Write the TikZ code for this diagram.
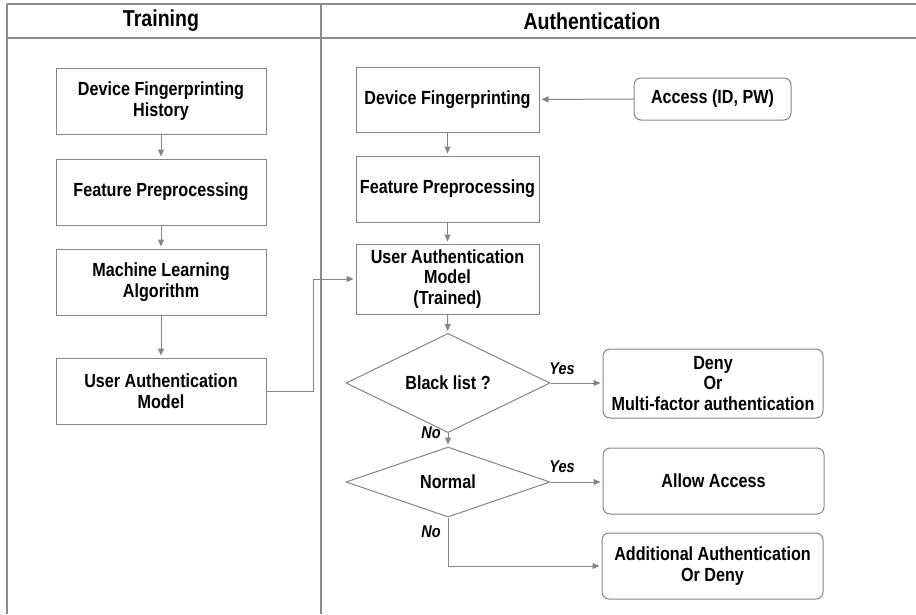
\documentclass[tikz,border=0pt]{standalone}
\usepackage{fontspec}
\setmainfont{Liberation Sans}[FakeStretch=0.85]
\usetikzlibrary{shapes.geometric,arrows.meta}
\definecolor{lc}{HTML}{858585}
\definecolor{fc}{HTML}{8C8C8C}
\tikzset{
  box/.style={draw=lc, line width=1pt, align=center, inner sep=0pt, font=\bfseries\fontsize{19}{20.5}\selectfont},
  rbox/.style={box, rounded corners=7pt},
  dia/.style={diamond, draw=lc, line width=1pt, inner sep=0pt, minimum width=204pt, minimum height=70pt, font=\bfseries\fontsize{19}{20.5}\selectfont},
  conn/.style={draw=lc, line width=1pt, -{Triangle[length=7pt,width=6pt]}, shorten >=2pt},
  lbl/.style={font=\bfseries\itshape\fontsize{17}{17}\selectfont},
  hdr/.style={font=\bfseries\fontsize{23}{23}\selectfont},
  frame/.style={draw=fc, line width=1.3pt}
}
\begin{document}
\begin{tikzpicture}[x=1pt,y=-1pt]
\useasboundingbox (0,0) rectangle (916,614);
% frame
\draw[frame] (7,4) -- (916,4);
\draw[frame] (7,38) -- (916,38);
\draw[frame] (7,4) -- (7,614);
\draw[frame] (321,4) -- (321,614);
\node[hdr] (th) at (161,21) {Training};
\node[hdr] (ah) at (592,21) {Authentication};
% training column
\node[box, minimum width=210pt, minimum height=66pt] (t1) at (161,101) {Device Fingerprinting\\History};
\node[box, minimum width=210pt, minimum height=66pt] (t2) at (161,192) {Feature Preprocessing};
\node[box, minimum width=210pt, minimum height=66pt] (t3) at (161,282) {Machine Learning\\Algorithm};
\node[box, minimum width=210pt, minimum height=66pt] (t4) at (161,391) {User Authentication\\Model};
% authentication column
\node[box, minimum width=183pt, minimum height=65pt] (a1) at (447.5,99.5) {Device Fingerprinting};
\node[rbox, minimum width=157pt, minimum height=42pt] (acc) at (712.5,99) {Access (ID, PW)};
\node[box, minimum width=183pt, minimum height=66pt] (a2) at (447.5,189) {Feature Preprocessing};
\node[box, minimum width=183pt, minimum height=70pt] (a3) at (447.5,279) {User Authentication\\Model\\(Trained)};
\node[dia] (d1) at (448,383) {Black list ?};
\node[dia] (d2) at (448,482) {Normal};
\node[rbox, minimum width=220pt, minimum height=69pt] (r1) at (713,383.5) {Deny\\Or\\Multi-factor authentication};
\node[rbox, minimum width=221pt, minimum height=66pt] (r2) at (713.5,481) {Allow Access};
\node[rbox, minimum width=221pt, minimum height=66pt] (r3) at (712.5,566) {Additional Authentication\\Or Deny};
% connectors
\draw[conn] (t1) -- (t2);
\draw[conn] (t2) -- (t3);
\draw[conn] (t3) -- (t4);
\draw[conn] (acc) -- (a1);
\draw[conn] (a1) -- (a2);
\draw[conn] (a2) -- (a3);
\draw[conn] (t4.east) -- ++(47,0) |- (a3.west);
\draw[conn] (a3) -- (d1);
\draw[conn] (d1.east) -- (r1.west |- d1.east);
\draw[conn] (d1) -- (d2);
\draw[conn] (d2.east) -- (r2.west |- d2.east);
\draw[conn] (d2.south) |- (r3.west);
% labels
\node[lbl] (y1) at (562,369) {Yes};
\node[lbl] (y2) at (562,467) {Yes};
\node[lbl] (n1) at (431,433) {No};
\node[lbl] (n2) at (431,532) {No};
\end{tikzpicture}
\end{document}
